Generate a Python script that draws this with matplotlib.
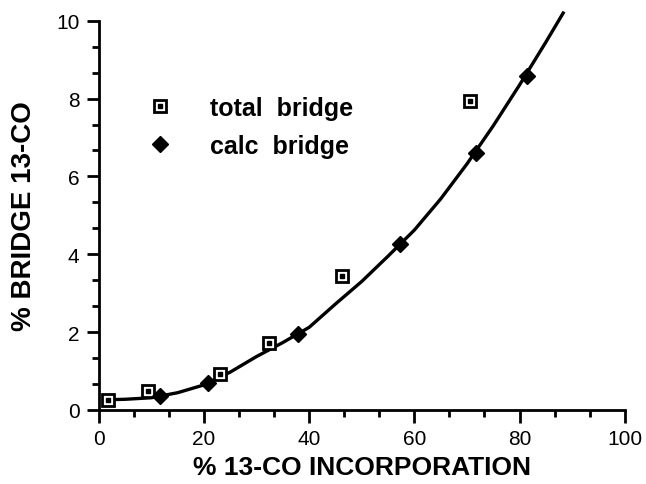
"""
% bridge 13-CO vs % 13-CO incorporation (total vs calculated bridge).
Writes out.png
"""

import matplotlib
matplotlib.use("Agg")
import matplotlib.pyplot as plt  # noqa: E402
from matplotlib.legend_handler import HandlerTuple  # noqa: E402
from matplotlib.ticker import MultipleLocator  # noqa: E402

# measured points
total_x = [1.7, 9.3, 23.0, 32.3, 46.2, 70.6]
total_y = [0.25, 0.49, 0.91, 1.71, 3.43, 7.94]
calc_x = [11.7, 20.8, 37.9, 57.3, 71.8, 81.4]
calc_y = [0.36, 0.70, 1.94, 4.26, 6.60, 8.59]

# fitted curve
fit_x = [1.7, 5, 10, 15, 20, 25, 30, 35, 40, 45, 50, 55, 60, 65, 70, 75, 80, 85, 88.3]
fit_y = [0.26, 0.27, 0.31, 0.44, 0.64, 0.97, 1.37, 1.73, 2.12, 2.72, 3.30, 3.95,
         4.62, 5.42, 6.32, 7.30, 8.35, 9.45, 10.2]

FONT = ["Liberation Sans", "DejaVu Sans"]
plt.rcParams["font.family"] = FONT

fig = plt.figure(figsize=(6.46, 4.85), dpi=100)
ax = fig.add_axes([0.153, 0.153, 0.814, 0.802])

ax.plot(fit_x, fit_y, color="k", lw=2.4, clip_on=False, zorder=2)
sq = ax.plot(total_x, total_y, ls="none", marker="s", ms=9, mfc="white",
             mec="k", mew=2.0, zorder=3)[0]
dot = ax.plot(total_x, total_y, ls="none", marker="s", ms=2.2, color="k",
              zorder=4)[0]
calc = ax.plot(calc_x, calc_y, ls="none", marker="D", ms=8, color="k",
               zorder=4)[0]

leg = ax.legend([(sq, dot), calc], ["total  bridge", "calc  bridge"],
                handler_map={tuple: HandlerTuple(ndivide=1)},
                loc="upper left", bbox_to_anchor=(0.05, 0.865), frameon=False,
                prop={"family": FONT, "weight": "bold", "size": 18},
                handlelength=1.0, handletextpad=1.5, labelspacing=0.55,
                numpoints=1)

ax.set_xlim(0, 100)
ax.set_ylim(0, 10)
ax.xaxis.set_major_locator(MultipleLocator(20))
ax.xaxis.set_minor_locator(MultipleLocator(20 / 3))
ax.yaxis.set_major_locator(MultipleLocator(2))
ax.yaxis.set_minor_locator(MultipleLocator(2 / 3))
ax.tick_params(which="major", direction="out", length=9, width=2,
               labelsize=15, pad=5)
ax.tick_params(which="minor", direction="out", length=5, width=2)
for s in ("top", "right"):
    ax.spines[s].set_visible(False)
for s in ("left", "bottom"):
    ax.spines[s].set_linewidth(2)

ax.set_xlabel("% 13-CO INCORPORATION", fontsize=19, fontweight="bold",
              labelpad=5)
ax.set_ylabel("% BRIDGE 13-CO", fontsize=20, fontweight="bold", labelpad=14)

fig.savefig("out.png", dpi=100)
